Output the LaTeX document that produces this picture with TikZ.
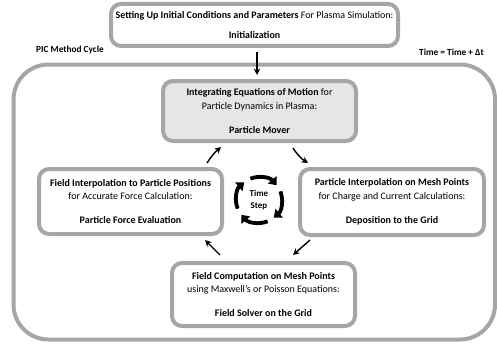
\documentclass[tikz,border=0pt]{standalone}
\usepackage{fontspec}
\setmainfont{Carlito}
\usetikzlibrary{arrows.meta}
\definecolor{bordergray}{HTML}{A6A6A6}
\definecolor{moverfill}{HTML}{E6E6E6}
\begin{document}
\begin{tikzpicture}[x=1pt,y=-1pt,
  stage/.style={draw=bordergray, line width=4pt, rounded corners=10pt, align=center,
    inner sep=0pt, fill=white, font=\fontsize{10}{13.5}\selectfont},
  flow/.style={-{Stealth[length=6.5pt,width=6.5pt]}, line width=1.4pt},
  cyc/.style={-{Triangle[length=7pt,width=11pt]}, line width=3.8pt},
  lab/.style={font=\fontsize{9.3}{10}\selectfont\bfseries}
]
\useasboundingbox (0,0) rectangle (497,345);
\draw[bordergray, line width=4pt, rounded corners=35pt] (13.5,64.5) rectangle (495,339.5);

\node[stage, minimum width=287pt, minimum height=42pt] (init) at (254.5,25)
  {\textbf{Setting Up Initial Conditions and Parameters} For Plasma Simulation:\\[6.5pt]\textbf{Initialization}};

\node[lab] (pic) at (70,49.5) {PIC Method Cycle};
\node[lab] (dt) at (451.5,52) {Time = Time + Δt};

\node[stage, fill=moverfill, minimum width=193pt, minimum height=60pt] (mover) at (259.5,111)
  {\textbf{Integrating Equations of Motion} for\\Particle Dynamics in Plasma:\\[10.5pt]\textbf{Particle Mover}};
\node[stage, minimum width=183pt, minimum height=65pt] (left) at (130.5,201.5)
  {\textbf{Field Interpolation to Particle Positions}\\for Accurate Force Calculation:\\[10.5pt]\textbf{Particle Force Evaluation}};
\node[stage, minimum width=184pt, minimum height=66pt] (right) at (392,202)
  {\textbf{Particle Interpolation on Mesh Points}\\for Charge and Current Calculations:\\[10.5pt]\textbf{Deposition to the Grid}};
\node[stage, minimum width=183pt, minimum height=63pt] (bottom) at (263.5,294.5)
  {\textbf{Field Computation on Mesh Points}\\using Maxwell's or Poisson Equations:\\[10.5pt]\textbf{Field Solver on the Grid}};

\draw[flow] ([xshift=2.5pt,yshift=-4pt]init.south) -- ([xshift=-2.5pt,yshift=4pt]mover.north);

\draw[flow] ([shift={(-17,-4)}]left.north east) to[bend left=8] ([shift={(60,4)}]mover.south west);
\draw[flow] ([shift={(-65,5)}]mover.south east) to[bend right=12] ([shift={(10,-4)}]right.north west);
\draw[flow] ([shift={(12,3)}]right.south west) -- ([shift={(123,-6)}]bottom.north west);
\draw[flow] ([shift={(50,-6)}]bottom.north west) -- ([shift={(-19,4)}]left.south east);

\node[lab, align=center, font=\fontsize{9}{12.5}\selectfont\bfseries] (ts) at (259,200) {Time\\Step};
\draw[cyc] ([shift={(-112:23)}]ts.center) arc[start angle=-112, end angle=-40, radius=23];
\draw[cyc] ([shift={(-22:23)}]ts.center) arc[start angle=-22, end angle=50, radius=23];
\draw[cyc] ([shift={(68:23)}]ts.center) arc[start angle=68, end angle=140, radius=23];
\draw[cyc] ([shift={(158:23)}]ts.center) arc[start angle=158, end angle=230, radius=23];
\end{tikzpicture}
\end{document}
